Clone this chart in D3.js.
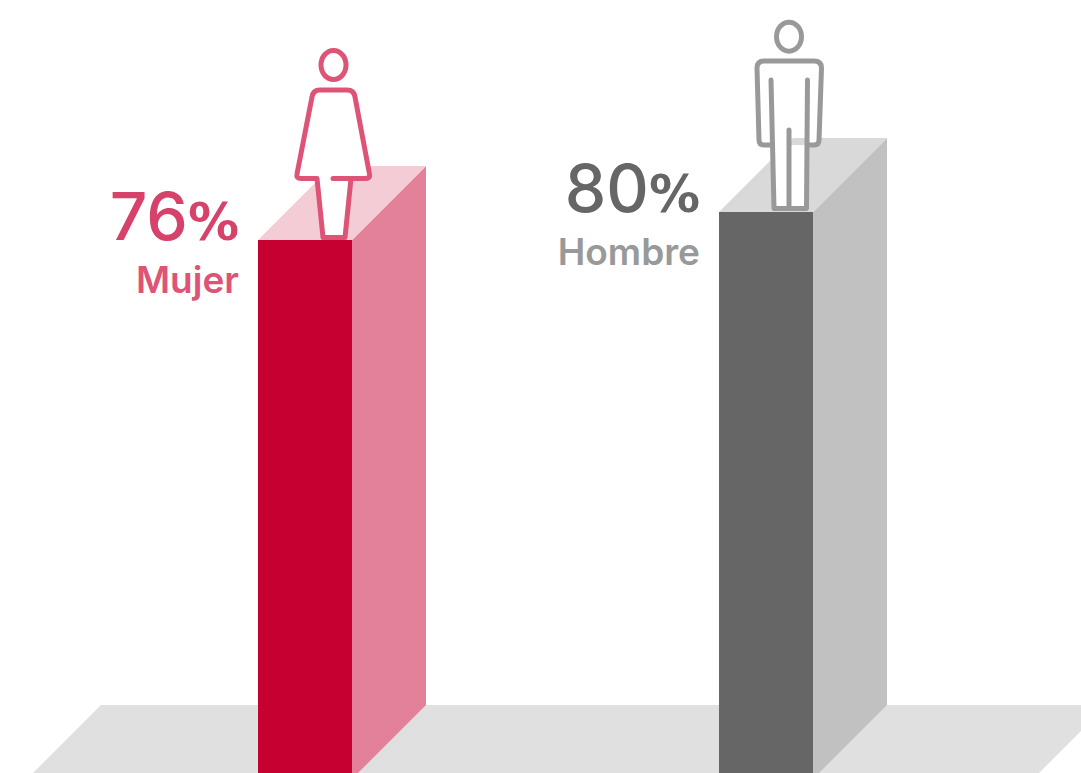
<!DOCTYPE html>
<html>
<head>
<meta charset="utf-8">
<script src="https://cdn.jsdelivr.net/npm/d3@7"></script>
<style>
  html, body { margin: 0; padding: 0; background: #fff; overflow: hidden; }
  text { font-family: Inter, Lato, sans-serif; text-anchor: end; }
</style>
</head>
<body>
<script>
let width = 1081;
let height = 773;

let categories = ["Mujer", "Hombre"];
let values = [76, 80];
let frontColors = ["#c70032", "#666666"];
let sideColors = ["#e3819a", "#c1c1c1"];
let topColors = ["#f4ccd6", "#d9d9d9"];
let valueColors = ["#d64269", "#666666"];
let labelColors = ["#de5476", "#999999"];
let iconColors = ["#de5476", "#999999"];

let barWidth = 94;
let depth = 74;      // 45 degree offset of the back edges
let floorY = 705;    // back edge of the floor

// icon outlines, relative to the top left corner of the bar front
let iconBodies = [
    "M75,-61.5 L107,-61.5 Q112.5,-61.5 111.5,-66 L97,-143 Q96,-150 89,-150 L62,-150 Q55,-150 54,-143 " +
    "L39,-66 Q38,-61.5 43,-61.5 L59,-61.5 L65,-2.5 L87,-2.5 L93,-61.5",
    "M52.5,-67 L45,-67 Q40,-67 40,-72 L38,-144 Q38,-151 45,-151 L95,-151 Q102.5,-151 102.5,-144 " +
    "L100,-72 Q100,-67 95,-67 L88,-67 M52,-132 L55,-3.5 L87.5,-3.5 L88.5,-132 M70,-82 L70,-3.5"
];
let iconHeads = [[75.5, -175], [70, -175.3]];

let x = d3.scalePoint().domain(categories).range([258, 719]);
let y = d3.scaleLinear().domain([0, 100]).range([772, 72]);

let svg = d3.select("body").append("svg")
    .attr("width", width)
    .attr("height", height)
    .style("display", "block");

let line = d3.line();

// floor
svg.append("path")
    .attr("fill", "#e0e0e0")
    .attr("d", line([[101, floorY], [width, floorY], [width, height - 42], [width - 42, height], [33, height]]) + "Z");

let bars = svg.selectAll(".bar")
    .data(categories)
    .join("g")
    .attr("class", "bar");

// side face, cut off where it meets the ground
bars.append("path")
    .attr("fill", (d, i) => sideColors[i])
    .attr("d", (d, i) => {
        let x1 = x(d) + barWidth;
        let top = y(values[i]);
        return line([[x1, top], [x1 + depth, top - depth], [x1 + depth, floorY], [x1 + depth - (height - floorY), height], [x1, height]]) + "Z";
    });

// top face
bars.append("path")
    .attr("fill", (d, i) => topColors[i])
    .attr("d", (d, i) => {
        let x0 = x(d);
        let top = y(values[i]);
        return line([[x0, top], [x0 + depth, top - depth], [x0 + barWidth + depth, top - depth], [x0 + barWidth, top]]) + "Z";
    });

// front face
bars.append("rect")
    .attr("x", d => x(d))
    .attr("y", (d, i) => y(values[i]))
    .attr("width", barWidth)
    .attr("height", (d, i) => height - y(values[i]))
    .attr("fill", (d, i) => frontColors[i]);

// person on top of each bar
let icons = bars.append("g")
    .attr("transform", (d, i) => `translate(${x(d)},${y(values[i])})`)
    .attr("fill", "#fff")
    .attr("stroke", (d, i) => iconColors[i])
    .attr("stroke-width", 5)
    .attr("stroke-linecap", "round")
    .attr("stroke-linejoin", "round");

icons.append("path").attr("d", (d, i) => iconBodies[i]);

icons.append("ellipse")
    .attr("cx", (d, i) => iconHeads[i][0])
    .attr("cy", (d, i) => iconHeads[i][1])
    .attr("rx", 12.5)
    .attr("ry", 14.5);

// value and label, right aligned next to the bar
let valueText = bars.append("text")
    .attr("x", d => x(d) - 19)
    .attr("y", (d, i) => y(values[i]))
    .attr("fill", (d, i) => valueColors[i])
    .attr("font-size", 66)
    .attr("font-weight", 500);

valueText.append("tspan").text((d, i) => values[i]);
valueText.append("tspan")
    .attr("font-family", "DejaVu Sans")
    .attr("font-size", 51)
    .attr("font-weight", 700)
    .text("%");

bars.append("text")
    .attr("x", d => x(d) - 19)
    .attr("y", (d, i) => y(values[i]) + 52.5)
    .attr("fill", (d, i) => labelColors[i])
    .attr("font-size", 37)
    .attr("font-weight", 600)
    .text(d => d);
</script>
</body>
</html>
